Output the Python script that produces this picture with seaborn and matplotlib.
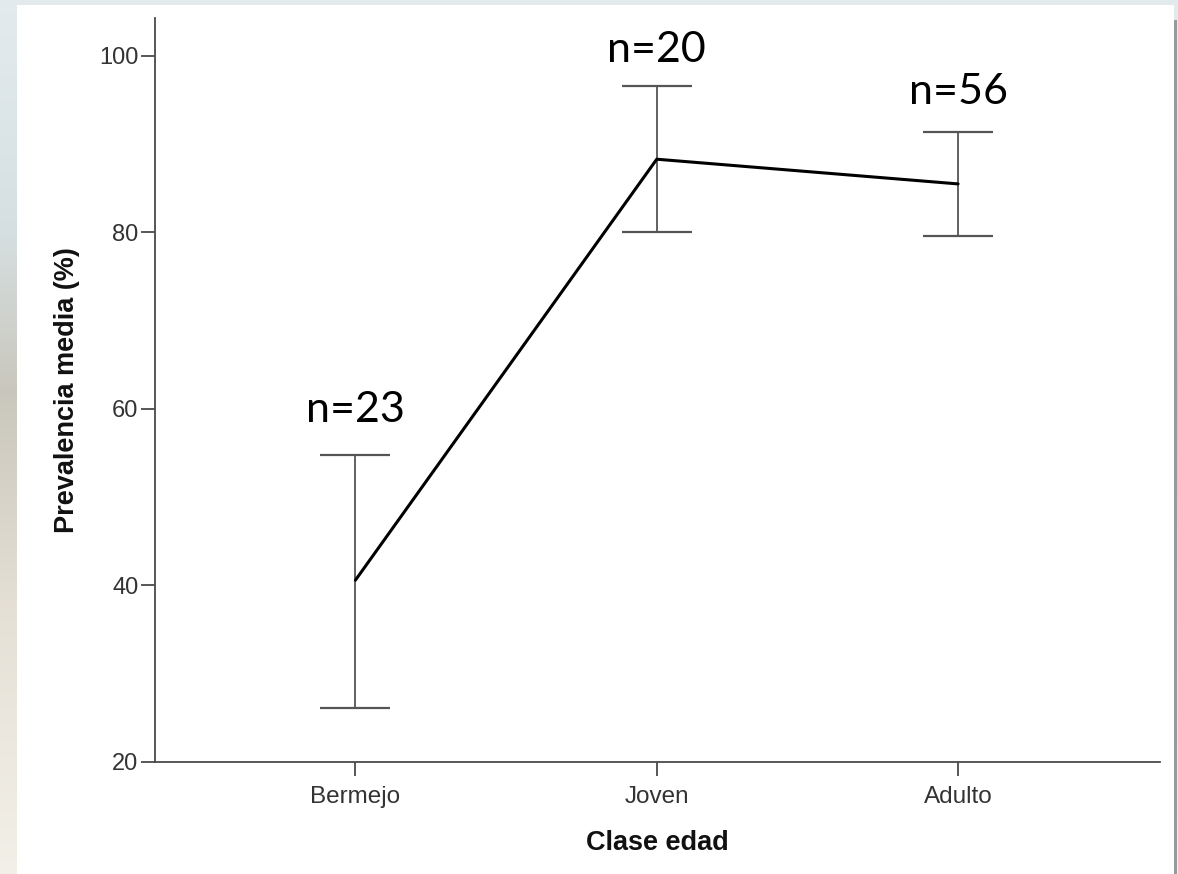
import numpy as np
import pandas as pd
import matplotlib
matplotlib.use("Agg")
import matplotlib.pyplot as plt
from matplotlib.patches import Rectangle
import seaborn as sns

# Mean prevalence by age class with error-bar limits
categories = ["Bermejo", "Joven", "Adulto"]
means = [40.6, 88.3, 85.5]
upper = [54.8, 96.6, 91.4]
lower = [26.1, 80.0, 79.6]
sample_sizes = [23, 20, 56]
label_heights = [59.9, 100.7, 95.9]

sns.set_theme(style="white")
plt.rcParams["font.family"] = ["Liberation Sans", "DejaVu Sans"]

fig = plt.figure(figsize=(11.78, 8.74), dpi=100)

# Soft backdrop behind the white chart panel
bg = fig.add_axes([0, 0, 1, 1], zorder=-10)
stops = np.array([
    [0.00, 0.89, 0.92, 0.93],
    [0.25, 0.84, 0.88, 0.89],
    [0.45, 0.79, 0.78, 0.74],
    [0.70, 0.90, 0.88, 0.84],
    [1.00, 0.95, 0.94, 0.91],
])
ys = np.linspace(0, 1, 300)
grad = np.stack([np.interp(ys, stops[:, 0], stops[:, c]) for c in (1, 2, 3)], axis=-1)
bg.imshow(grad[:, None, :], aspect="auto", extent=[0, 1, 0, 1], origin="upper")
bg.add_patch(Rectangle((17 / 1178, 0), (1174 - 17) / 1178, 1 - 5 / 874,
                       facecolor="white", edgecolor="none", transform=bg.transAxes))
bg.add_patch(Rectangle((1174 / 1178, 0), 3 / 1178, 1 - 20 / 874,
                       facecolor="#9a9a9a", edgecolor="none", transform=bg.transAxes))
bg.set_xlim(0, 1)
bg.set_ylim(0, 1)
bg.axis("off")

ax = fig.add_axes([155 / 1178, 112 / 874, (1160 - 155) / 1178, (762 - 18) / 874])
ax.set_facecolor("none")

df = pd.DataFrame({"pos": np.arange(len(categories)), "media": means})
sns.lineplot(data=df, x="pos", y="media", color="black", linewidth=2.2, ax=ax, zorder=3)

err_low = np.array(means) - np.array(lower)
err_high = np.array(upper) - np.array(means)
ax.errorbar(df["pos"], means, yerr=[err_low, err_high], fmt="none",
            ecolor="#555555", elinewidth=1.3, capsize=25, capthick=1.6, zorder=2)

for pos, n, h in zip(df["pos"], sample_sizes, label_heights):
    ax.text(pos, h, f"n={n}", ha="center", va="center", fontsize=31,
            family=["Lato", "DejaVu Sans"], color="black")

ax.set_xlim(-0.665, 2.67)
ax.set_ylim(20, 104.3)
ax.set_xticks(df["pos"])
ax.set_xticklabels(categories)
ax.set_yticks([20, 40, 60, 80, 100])

for side in ("top", "right"):
    ax.spines[side].set_visible(False)
for side in ("left", "bottom"):
    ax.spines[side].set_color("#4a4a4a")
    ax.spines[side].set_linewidth(1.3)

ax.tick_params(axis="y", direction="out", length=10, width=1.3, color="#4a4a4a",
               labelsize=17, labelcolor="#333333", pad=2, left=True)
ax.tick_params(axis="x", direction="out", length=10, width=1.3, color="#4a4a4a",
               labelsize=17.5, labelcolor="#333333", pad=7, bottom=True)

ax.set_xlabel("Clase edad", fontsize=19.5, fontweight="bold", labelpad=16, color="#111111")
ax.set_ylabel("Prevalencia media (%)", fontsize=19.5, fontweight="bold", labelpad=14, color="#111111")

fig.savefig("out.png", dpi=100)
